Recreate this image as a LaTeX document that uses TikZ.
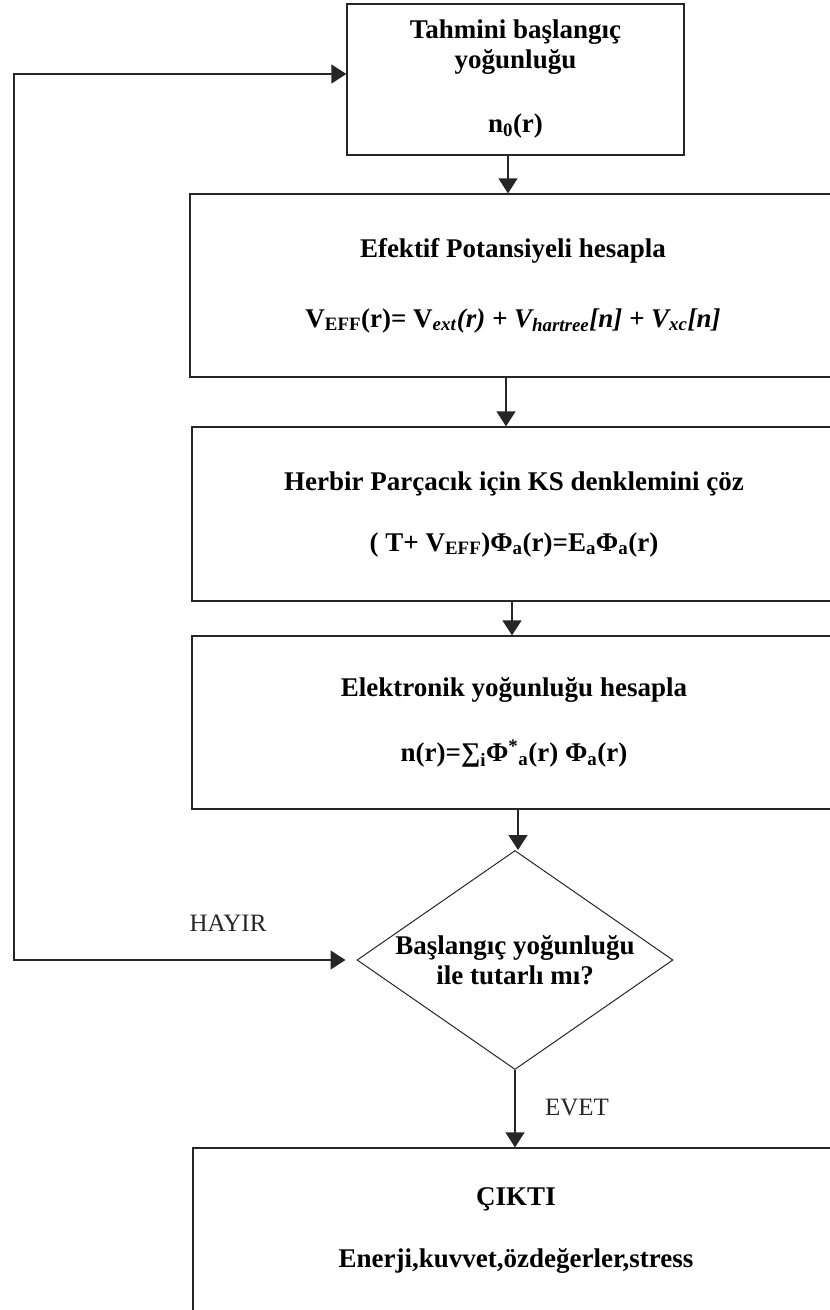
\documentclass[tikz,border=0pt]{standalone}
\usepackage{fontspec}
\setmainfont{Liberation Serif}
\usetikzlibrary{arrows.meta,shapes.geometric}
\begin{document}
\begin{tikzpicture}[x=1pt,y=-1pt,
  box/.style={draw=black!85, line width=1.3pt, rectangle, inner sep=0pt, align=center,
    font=\fontsize{27}{30}\selectfont\bfseries},
  decision/.style={draw=black!85, line width=1pt, diamond, shape aspect=1.44, inner sep=0pt,
    align=center, font=\fontsize{27}{30}\selectfont\bfseries},
  arr/.style={draw=black!85, line width=1.3pt, -{Triangle[width=19pt,length=15pt]}},
  tip/.tip={Triangle[width=19pt,length=15pt]},
  lbl/.style={font=\fontsize{25}{28}\selectfont, text=black!85}]
\path[use as bounding box] (0,0) rectangle (830,1310);
\clip (0,0) rectangle (830,1310);

\node[box, minimum width=337pt, minimum height=151pt] (box1) at (515.5,79.5)
  {Tahmini başlangıç\\yoğunluğu\\[34pt]n\textsubscript{0}(r)};
\node[box, minimum width=646pt, minimum height=183pt] (box2) at (513,285.5)
  {Efektif Potansiyeli hesapla\\[40pt]V\textsubscript{EFF}(r)= V\textsubscript{\textit{ext}}\textit{(r) + V\textsubscript{hartree}[n] + V\textsubscript{xc}[n]}};
\node[box, minimum width=644pt, minimum height=174pt] (box3) at (514,514)
  {Herbir Parçacık için KS denklemini çöz\\[31pt]( T+ V\textsubscript{EFF})Φ\textsubscript{a}(r)=E\textsubscript{a}Φ\textsubscript{a}(r)};
\node[box, minimum width=644pt, minimum height=173pt] (box4) at (514,722.5)
  {Elektronik yoğunluğu hesapla\\[35pt]n(r)=∑\textsubscript{i}Φ\textsuperscript{*}\textsubscript{a}(r) Φ\textsubscript{a}(r)};
\node[decision, minimum width=316pt, minimum height=219pt] (dia) at (515,960)
  {Başlangıç yoğunluğu\\ile tutarlı mı?};
\node[box, minimum width=646pt, minimum height=166pt] (box5) at (516,1231)
  {ÇIKTI\\[32pt]Enerji,kuvvet,özdeğerler,stress};

\node[lbl] (hayir) at (228,923) {HAYIR};
\node[lbl] (evet) at (577,1107) {EVET};

\coordinate (ct) at (14,74);

\draw[arr] ([xshift=-7.5pt]box1.south) -- ([xshift=-7.5pt]box1.south |- box2.north);
\draw[arr] ([xshift=-7pt]box2.south) -- ([xshift=-7pt]box2.south |- box3.north);
\draw[arr] ([xshift=-2pt]box3.south) -- ([xshift=-2pt]box3.south |- box4.north);
\draw[arr] ([xshift=4pt]box4.south) -- ([xshift=4pt]box4.south |- dia.north);
\draw[arr] (dia.south) -- (dia.south |- box5.north);
\draw[arr, tip-tip] ([xshift=-11pt]dia.west) -| (ct) -- (box1.west |- ct);
\end{tikzpicture}
\end{document}
